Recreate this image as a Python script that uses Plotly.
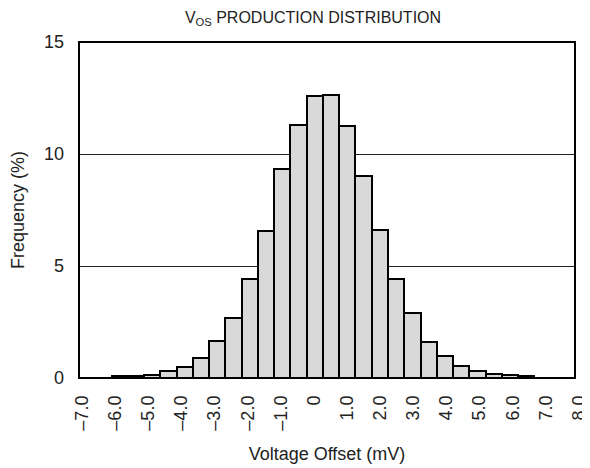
import plotly.graph_objects as go

# Histogram bins (mV), bin width 0.5, centers
bin_centers = [-5.75, -5.25, -4.75, -4.25, -3.75, -3.25, -2.75, -2.25, -1.75, -1.25,
               -0.75, -0.25, 0.25, 0.75, 1.25, 1.75, 2.25, 2.75, 3.25, 3.75,
               4.25, 4.75, 5.25, 5.75, 6.25, 6.75]
frequency = [0.10, 0.10, 0.15, 0.33, 0.50, 0.88, 1.65, 2.68, 4.42, 6.56,
             9.33, 11.29, 12.60, 12.65, 11.25, 9.00, 6.62, 4.42, 2.89, 1.59,
             1.00, 0.54, 0.30, 0.19, 0.15, 0.07]

tick_vals = [-7, -6, -5, -4, -3, -2, -1, 0, 1, 2, 3, 4, 5, 6, 7, 8]
tick_text = ["–7.0", "–6.0", "–5.0", "–4.0", "–3.0", "–2.0", "–1.0", "0",
             "1.0", "2.0", "3.0", "4.0", "5.0", "6.0", "7.0", "8.0"]
y_ticks = [0, 5, 10, 15]

FONT = "Liberation Sans, Arial, sans-serif"
TXT = "#222"

fig = go.Figure()
fig.add_trace(go.Bar(
    x=bin_centers, y=frequency, width=0.5,
    marker=dict(color="#d9d9d9", line=dict(color="black", width=2)),
    xaxis="x", yaxis="y", showlegend=False, hoverinfo="x+y",
))
# empty trace to hold the label axis
fig.add_trace(go.Scatter(x=[], y=[], xaxis="x2", yaxis="y2", showlegend=False))

# page body has an 8px margin, so the figure is 8px smaller than the window
W, H = 582, 460
ml, mr, mt, mb = 71, 5, 34, 90
pw = W - ml - mr

fig.update_layout(
    width=W, height=H,
    margin=dict(l=ml, r=mr, t=mt, b=mb, autoexpand=False),
    paper_bgcolor="white", plot_bgcolor="rgba(0,0,0,0)",
    font=dict(family=FONT, size=18, color=TXT),
    bargap=0,
    title=dict(
        text="V<sub>OS</sub> PRODUCTION DISTRIBUTION",
        font=dict(family=FONT, size=16, color=TXT),
        x=305 / W, xanchor="center",
        y=1 - 9 / H, yanchor="middle", xref="container", yref="container",
    ),
    xaxis=dict(
        domain=[0, 496 / pw], range=[-7, 8.25],
        showticklabels=False, showgrid=False, zeroline=False, ticks="",
        showline=False, anchor="y", automargin=False,
        title=dict(text="Voltage Offset (mV)", standoff=69,
                   font=dict(family=FONT, size=18, color=TXT)),
    ),
    xaxis2=dict(
        domain=[3 / pw, 500 / pw], range=[-7, 8],
        tickmode="array", tickvals=tick_vals, ticktext=tick_text,
        tickangle=-90, ticks="", ticklabelstandoff=13,
        ticklabeloverflow="allow", automargin=False,
        showgrid=False, zeroline=False, showline=False, anchor="y2",
        tickfont=dict(family=FONT, size=18, color=TXT),
    ),
    yaxis=dict(
        domain=[0, 1], range=[0, 15],
        tickmode="array", tickvals=y_ticks,
        showgrid=True, gridcolor="#222", gridwidth=1,
        zeroline=False, showline=False, ticks="", ticklabelstandoff=14,
        automargin=False,
        tickfont=dict(family=FONT, size=18, color=TXT),
        title=dict(text="Frequency (%)", standoff=16,
                   font=dict(family=FONT, size=18, color=TXT)),
    ),
    yaxis2=dict(
        domain=[0, 1], range=[0, 1], visible=False, anchor="x2",
    ),
    shapes=[dict(type="rect", xref="x domain", yref="y domain",
                 x0=0, x1=1, y0=0, y1=1, line=dict(color="black", width=2),
                 layer="above")],
)

fig.write_html("out.html")
